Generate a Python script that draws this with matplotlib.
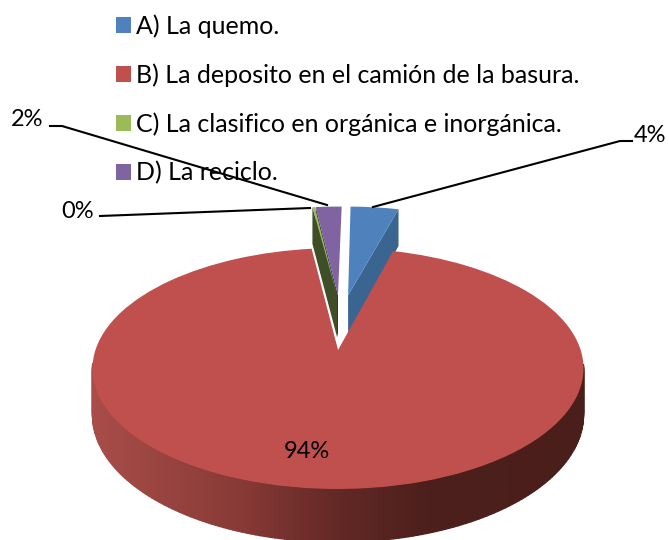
"""
Exploded 3D-look pie chart of what people do with their rubbish.
"""

import numpy as np
import matplotlib
matplotlib.use("Agg")
import matplotlib.pyplot as plt
from matplotlib.transforms import Transform

plt.rcParams["font.family"] = ["Lato", "DejaVu Sans"]

labels = [
    "A) La quemo.",
    "B) La deposito en el camión de la basura.",
    "C) La clasifico en orgánica e inorgánica.",
    "D) La reciclo.",
]
shares = [3.9, 93.8, 0.2, 2.1]
colors = ["#4f81bd", "#c0504d", "#9bbb59", "#8064a2"]
side_colors = ["#3a6591", "#6b2b28", "#3e4e27", "#352a4f"]

# perspective of the pie plane, in pixels of the output picture
CENTER_X = 340
CENTER_Y = 350
SCALE_X = 242.6
SCALE_Y = -63.9
TILT = 0.1535
DEPTH = 45


class PieProjection(Transform):
    input_dims = 2
    output_dims = 2
    is_separable = False
    has_inverse = False

    def __init__(self, drop=0):
        super().__init__()
        self.drop = drop

    def transform_non_affine(self, values):
        values = np.asarray(values, dtype=float)
        w = 1 + TILT * values[:, 1]
        x = CENTER_X + SCALE_X * values[:, 0] / w
        y = (SCALE_Y * values[:, 1] + CENTER_Y + self.drop) / w
        return np.column_stack([x, y])


def on_circle(center, angle):
    a = np.radians(angle)
    return np.array([center[0] + np.cos(a), center[1] + np.sin(a)])


def draw_cut_face(ax, wedge, angle, color, zorder):
    top = PieProjection(0)
    bottom = PieProjection(DEPTH)
    rim = on_circle(wedge.center, angle)
    pts = np.array([wedge.center, rim])
    quad = np.vstack([top.transform(pts), bottom.transform(pts[::-1])])
    ax.fill(quad[:, 0], quad[:, 1], color=color, lw=0, zorder=zorder)


def draw_rim(ax, wedge, zorder):
    # front wall of the big slice, darkening from left to right
    top = PieProjection(0)
    bottom = PieProjection(DEPTH)
    angles = np.arange(wedge.theta1, wedge.theta2 + 1, 1.0)
    for a0, a1 in zip(angles[:-1], angles[1:]):
        pts = np.array([on_circle(wedge.center, a0), on_circle(wedge.center, a1)])
        # the back of the wall is hidden behind the top surface
        if pts[:, 1].max() > wedge.center[1] - 0.1:
            continue
        quad = np.vstack([top.transform(pts), bottom.transform(pts[::-1])])
        x = quad[:, 0].mean()
        rgb = [
            np.interp(x, [94, 240, 340, 430, 585], [0xa8, 0x88, 0x62, 0x4c, 0x4a]),
            np.interp(x, [94, 240, 340, 430, 585], [0x4d, 0x3a, 0x28, 0x1f, 0x1e]),
            np.interp(x, [94, 240, 340, 430, 585], [0x49, 0x36, 0x25, 0x1c, 0x1b]),
        ]
        ax.fill(quad[:, 0], quad[:, 1], color=[c / 255 for c in rgb], lw=1.0, zorder=zorder)


fig = plt.figure(figsize=(6.69, 5.40), dpi=100)
ax = fig.add_axes([0, 0, 1, 1])

wedges, _ = ax.pie(
    shares,
    colors=colors,
    startangle=89,
    counterclock=False,
    wedgeprops={"linewidth": 0},
)
ax.set_aspect("auto")
ax.set_xlim(0, 669)
ax.set_ylim(540, 0)
ax.axis("off")

blue, red, green, purple = wedges
blue.set_center((0.036, 0.5))
red.set_center((-0.008, 0.0))
green.set_center((-0.013, 0.5))
purple.set_center((-0.009, 0.5))

draw_cut_face(ax, blue, blue.theta1, side_colors[0], 1)
draw_cut_face(ax, purple, purple.theta2, side_colors[3], 1)
draw_cut_face(ax, green, green.theta2, side_colors[2], 2)
draw_rim(ax, red, 3)

for w, z in zip(wedges, [1.5, 4, 2.5, 1.5]):
    w.set_transform(PieProjection(0) + ax.transData)
    w.set_zorder(z)

ax.legend(
    wedges,
    labels,
    loc="upper left",
    bbox_to_anchor=(116 / 669, 1 - 14 / 540),
    bbox_transform=fig.transFigure,
    frameon=False,
    fontsize=18,
    handlelength=0.6,
    handleheight=0.6,
    handletextpad=0.22,
    labelspacing=1.02,
    borderpad=0,
    borderaxespad=0,
)

# leader lines and value labels
pct = [f"{s:.0f}%" for s in shares]
ax.plot([50, 62, 327], [126, 126, 205], color="black", lw=1.5, zorder=6)
ax.plot([100, 310], [216, 208], color="black", lw=1.5, zorder=6)
ax.plot([632, 620, 373], [141, 141, 207], color="black", lw=1.5, zorder=6)

ax.text(27, 119, pct[3], ha="center", va="center", fontsize=17)
ax.text(78, 211, pct[2], ha="center", va="center", fontsize=17)
ax.text(650, 135, pct[0], ha="center", va="center", fontsize=17)
ax.text(307, 451, pct[1], ha="center", va="center", fontsize=17, zorder=7)

fig.savefig("out.png", dpi=100)
